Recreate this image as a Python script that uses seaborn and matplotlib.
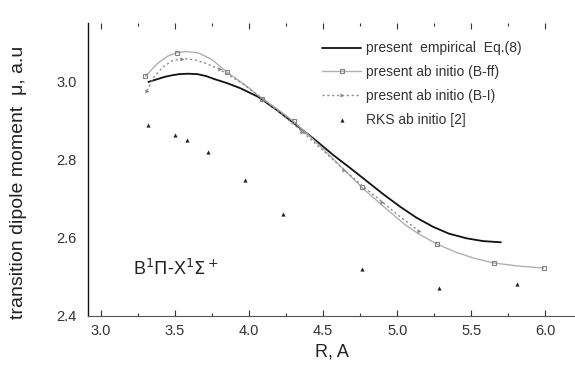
import numpy as np
import pandas as pd
import matplotlib
matplotlib.use("Agg")
import matplotlib.pyplot as plt
import seaborn as sns
from matplotlib.ticker import MultipleLocator, FixedLocator, FixedFormatter

# --- data ---
emp_R = [3.32, 3.38, 3.43, 3.48, 3.53, 3.59, 3.65, 3.71, 3.76, 3.85, 3.94, 4.06, 4.19,
         4.32, 4.45, 4.57, 4.69, 4.80, 4.91, 5.02, 5.13, 5.24, 5.35, 5.47, 5.58, 5.70]
emp_mu = [2.998, 3.005, 3.011, 3.015, 3.018, 3.019, 3.018, 3.013, 3.006, 2.995, 2.982,
          2.960, 2.925, 2.887, 2.848, 2.810, 2.775, 2.742, 2.709, 2.678, 2.650, 2.627,
          2.609, 2.597, 2.590, 2.587]

bff_R = [3.30, 3.38, 3.45, 3.51, 3.58, 3.66, 3.75, 3.85, 3.97, 4.09, 4.20, 4.30, 4.40,
         4.50, 4.63, 4.76, 4.90, 5.05, 5.15, 5.27, 5.40, 5.52, 5.65, 5.82, 5.99]
bff_mu = [3.012, 3.045, 3.064, 3.073, 3.076, 3.072, 3.055, 3.023, 2.991, 2.955, 2.926,
          2.897, 2.862, 2.826, 2.777, 2.728, 2.681, 2.633, 2.607, 2.582, 2.561, 2.546,
          2.534, 2.526, 2.521]
bff_marks = [0, 3, 7, 9, 11, 15, 19, 22, 24]

bi_R = [3.31, 3.36, 3.42, 3.48, 3.55, 3.63, 3.71, 3.80, 3.95, 4.10, 4.23, 4.36, 4.50,
        4.64, 4.77, 4.90, 5.02, 5.15]
bi_mu = [2.975, 3.012, 3.037, 3.052, 3.058, 3.055, 3.045, 3.030, 2.995, 2.952, 2.912,
         2.870, 2.822, 2.773, 2.730, 2.690, 2.652, 2.615]
bi_marks = [0, 4, 7, 9, 11, 13, 15, 17]

rks_R = [3.32, 3.50, 3.58, 3.72, 3.97, 4.23, 4.76, 5.28, 5.81]
rks_mu = [2.887, 2.861, 2.849, 2.819, 2.746, 2.660, 2.519, 2.469, 2.479]

x_ticks = [3.0, 3.5, 4.0, 4.5, 5.0, 5.5, 6.0]
x_tick_labels = ["3.0", "3.5", "4.0", "4.5", "5.0", "5.5", "6.0"]
y_ticks = [2.4, 2.6, 2.8, 3.0]
y_tick_labels = ["2.4", "2.6", "2.8", "3.0"]

labels = ["present  empirical  Eq.(8)", "present ab initio (B-ff)",
          "present ab initio (B-I)", "RKS ab initio [2]"]

sns.set_theme(style="ticks")
plt.rcParams['font.family'] = ['Liberation Sans', 'DejaVu Sans']

fig = plt.figure(figsize=(5.75, 3.74), dpi=100)
ax = fig.add_axes([0.153, 0.155, 0.847, 0.7835])

emp = pd.DataFrame({"R": emp_R, "mu": emp_mu})
bff = pd.DataFrame({"R": bff_R, "mu": bff_mu})
bi = pd.DataFrame({"R": bi_R, "mu": bi_mu})
rks = pd.DataFrame({"R": rks_R, "mu": rks_mu})

sns.lineplot(data=emp, x="R", y="mu", ax=ax, color="#111111", lw=1.3,
             sort=False, label=labels[0])
sns.lineplot(data=bff, x="R", y="mu", ax=ax, color="#b0b0b0", lw=1.0,
             sort=False, marker="s", markersize=3.5, markerfacecolor="none",
             markeredgecolor="#808080", markeredgewidth=0.8, markevery=bff_marks,
             label=labels[1])
sns.lineplot(data=bi, x="R", y="mu", ax=ax, color="#8a8a8a", lw=1.0,
             linestyle=(0, (1.5, 2.0)), sort=False, marker=">", markersize=3,
             markeredgewidth=0, markevery=bi_marks, label=labels[2])
sns.scatterplot(data=rks, x="R", y="mu", ax=ax, color="#222222", marker="^",
                s=9, linewidth=0, label=labels[3])

ax.set_xlim(2.912, 6.20)
ax.set_ylim(2.398, 3.149)

ax.xaxis.set_major_locator(FixedLocator(x_ticks))
ax.xaxis.set_major_formatter(FixedFormatter(x_tick_labels))
ax.xaxis.set_minor_locator(MultipleLocator(0.25))
ax.yaxis.set_major_locator(FixedLocator(y_ticks))
ax.yaxis.set_major_formatter(FixedFormatter(y_tick_labels))

ax.tick_params(axis="both", which="both", direction="in", top=True,
               labelsize=10.5, colors="#333333", width=0.8)
ax.tick_params(axis="x", which="major", length=4, pad=6)
ax.tick_params(axis="x", which="minor", length=2)
ax.tick_params(axis="y", which="major", length=0, pad=8)

for s in ["top", "right"]:
    ax.spines[s].set_visible(False)
ax.spines["left"].set_color("#111111")
ax.spines["left"].set_linewidth(1.0)
ax.spines["bottom"].set_color("#555555")
ax.spines["bottom"].set_linewidth(0.8)

ax.set_xlabel("R, A", fontsize=13, color="#222222", labelpad=4)
ax.set_ylabel("transition dipole moment  \u03bc, a.u", fontsize=14,
              color="#222222")
ax.yaxis.set_label_coords(-0.125, 0.455)

ax.text(3.216, 2.519, r"B$^1\Pi$-X$^1\Sigma^+$", fontsize=13,
        color="#222222", va="center", ha="left")

leg = ax.legend(loc="upper left", bbox_to_anchor=(0.455, 0.98), frameon=False,
                fontsize=10, handlelength=2.8, labelspacing=0.7,
                handletextpad=0.35)
for t in leg.get_texts():
    t.set_color("#333333")

fig.savefig("out.png", dpi=100)
